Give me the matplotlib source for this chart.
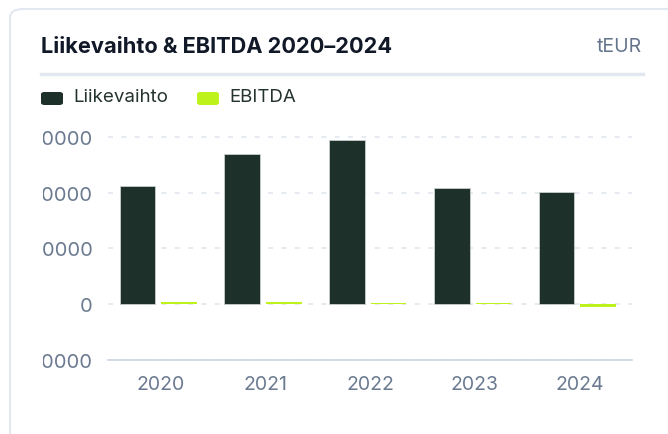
import matplotlib.pyplot as plt
import numpy as np
from matplotlib.patches import FancyBboxPatch
from matplotlib.transforms import Bbox, TransformedBbox

plt.rcParams['font.family'] = ['Inter', 'DejaVu Sans']

years = ['2020', '2021', '2022', '2023', '2024']
liikevaihto = [212500, 269500, 294500, 209000, 202000]
ebitda = [3500, 4000, 2000, 2000, -4500]
yticks = [-100000, 0, 100000, 200000, 300000]

dark = '#1d302a'
lime = '#bdf21a'
grey = '#6b7a90'

W, H = 668, 435
fig = plt.figure(figsize=(W / 100, H / 100), dpi=100)


def fx(px):
    return px / W


def fy(py):
    return 1 - py / H


# card background
card = FancyBboxPatch((fx(10), fy(460)), fx(700) - fx(10), fy(10) - fy(460),
                      boxstyle='round,pad=0,rounding_size=0.02',
                      transform=fig.transFigure, facecolor='white',
                      edgecolor='#e2e8f0', linewidth=1.5, zorder=-5)
fig.patches.append(card)

fig.text(fx(41), fy(47), 'Liikevaihto & EBITDA 2020\u20132024', fontsize=15.7,
         fontweight='bold', color='#111827', va='center', ha='left')
fig.text(fx(642), fy(47), 'tEUR', fontsize=14, color='#64748b', va='center', ha='right')
fig.add_artist(plt.Line2D([fx(41), fx(643)], [fy(75), fy(75)], transform=fig.transFigure,
                          color='#e2e8f0', linewidth=2.5))

# legend
for x0, tx, col, lab in [(41, 73, dark, 'Liikevaihto'), (197, 229, lime, 'EBITDA')]:
    fig.patches.append(FancyBboxPatch((fx(x0), fy(106)), fx(22), fy(93) - fy(106),
                                      boxstyle='round,pad=0,rounding_size=0.005',
                                      transform=fig.transFigure, facecolor=col,
                                      edgecolor='none'))
    fig.text(fx(tx), fy(98), lab, fontsize=13.5, color='#24332f', va='center', ha='left')

ax = fig.add_axes([fx(108), fy(361), fx(632) - fx(108), fy(126.8) - fy(361)])
x = np.arange(len(years))
w = 0.34
ax.bar(x - 0.22, liikevaihto, w, color=dark, edgecolor='#c8cfcc', linewidth=0.6, zorder=3)
ax.bar(x + 0.177, ebitda, w, color=lime, edgecolor='none', zorder=3)

ax.set_xlim(-0.5, len(years) - 0.5)
ax.set_ylim(-100000, 320000)
ax.set_yticks(yticks)
ax.set_yticklabels([str(v) for v in yticks])
ax.set_xticks(x)
ax.set_xticklabels(years)
ax.tick_params(axis='y', length=0, pad=11, labelsize=14.5, labelcolor=grey)
ax.tick_params(axis='x', length=0, pad=11, labelsize=14, labelcolor=grey)
ax.grid(axis='y', color='#e2e8f0', linestyle=(0, (3, 5)), linewidth=1.2, zorder=0)
for s in ['top', 'right', 'left']:
    ax.spines[s].set_visible(False)
ax.spines['bottom'].set_color('#cbd5e1')
ax.spines['bottom'].set_linewidth(1.2)
ax.set_facecolor('none')

clip = TransformedBbox(Bbox([[fx(43), 0], [1, 1]]), fig.transFigure)
for lbl in ax.get_yticklabels():
    lbl.set_clip_on(True)
    lbl.set_clip_box(clip)

fig.savefig('out.png', dpi=100)
